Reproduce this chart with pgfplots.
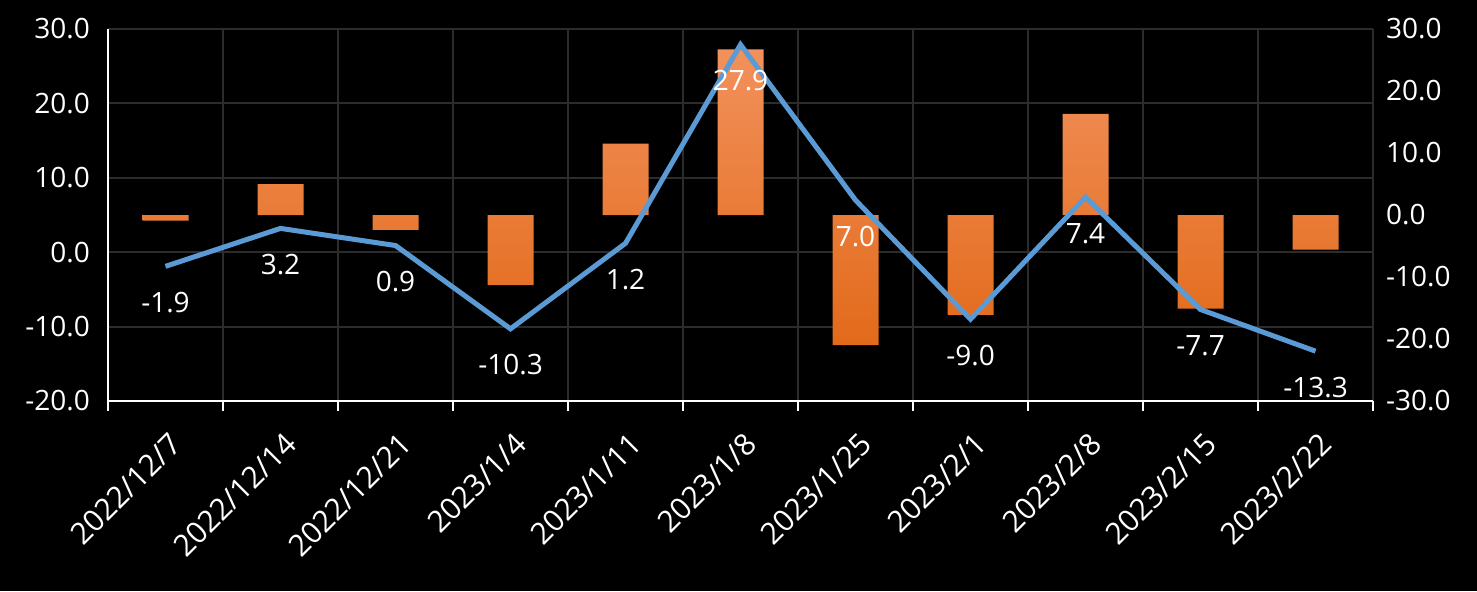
\documentclass[border=0pt]{standalone}
\usepackage{pgfplots}
\pgfplotsset{compat=1.18}
\usepackage{fontspec}
\setmainfont{Open Sans}
\definecolor{gridc}{HTML}{2C2C2C}
\definecolor{barTop}{HTML}{F2915C}
\definecolor{barBot}{HTML}{E26A1A}
\definecolor{lineBlue}{HTML}{5B9BD5}
\newcommand{\lblfont}{\fontsize{14}{16}\selectfont}
\newcommand{\xlblfont}{\fontsize{15}{17}\selectfont}
\pgfplotsset{
  base/.style={scale only axis, width=632.5pt, height=186pt,
    xmin=-0.5, xmax=10.5, at={(0,0)}, anchor=south west},
}
\begin{document}
\begin{tikzpicture}
\fill[black] (-54pt,-95pt) rectangle (684.5pt,200.5pt);
% frame, grid and left/bottom axis
\begin{axis}[base,
  ymin=-20, ymax=30,
  ytick={-20,-10,0,10,20,30},
  yticklabels={-20.0,-10.0,0.0,10.0,20.0,30.0},
  xtick={0,...,10},
  xticklabels={2022/12/7,2022/12/14,2022/12/21,2023/1/4,2023/1/11,2023/1/8,2023/1/25,2023/2/1,2023/2/8,2023/2/15,2023/2/22},
  minor xtick={-0.5,0.5,...,10.5},
  xminorgrids=true, ymajorgrids=true,
  grid style={draw=gridc, line width=1pt},
  minor grid style={draw=gridc, line width=1pt},
  axis x line*=bottom, axis y line*=left,
  axis line style={white, line width=1pt, -},
  tick align=outside,
  major tick length=0pt, minor tick length=5pt,
  minor tick style={white, line width=1pt},
  ticklabel style={text=white, font=\lblfont},
  xticklabel style={xshift=1.5pt, yshift=-10pt, rotate=45, anchor=north east, font=\xlblfont},
  yticklabel style={xshift=-5.5pt},
]
\addplot[draw=none, forget plot] coordinates {(0,0)};
\end{axis}
% bars on right axis
\begin{axis}[base,
  ymin=-30, ymax=30,
  axis y line*=right, axis x line=none,
  y axis line style={draw=none},
  ytick={-30,-20,-10,0,10,20,30},
  yticklabels={-30.0,-20.0,-10.0,0.0,10.0,20.0,30.0},
  major tick length=0pt,
  ticklabel style={text=white, font=\lblfont},
  yticklabel style={xshift=3pt},
  ybar, bar width=23pt,
]
\addplot[draw=none, top color=barTop, bottom color=barBot, middle color=barTop!50!barBot] coordinates {
(0,-0.9) (1,5.0) (2,-2.4) (3,-11.3) (4,11.5) (5,26.7) (6,-21.0) (7,-16.1) (8,16.3) (9,-15.1) (10,-5.6)
};
\end{axis}
% line on left axis
\begin{axis}[base,
  ymin=-20, ymax=30, hide axis, clip=false,
]
\addplot[lineBlue, line width=2.5pt, mark=none,
  nodes near coords, point meta=explicit symbolic,
  every node near coord/.append style={anchor=center, yshift=-18pt, text=white, font=\lblfont}]
coordinates {
(0,-1.9) [-1.9] (1,3.2) [3.2] (2,0.9) [0.9] (3,-10.3) [-10.3] (4,1.2) [1.2] (5,27.9) [27.9]
(6,7.0) [7.0] (7,-9.0) [-9.0] (8,7.4) [7.4] (9,-7.7) [-7.7] (10,-13.3) [-13.3]
};
\end{axis}
\end{tikzpicture}
\end{document}
